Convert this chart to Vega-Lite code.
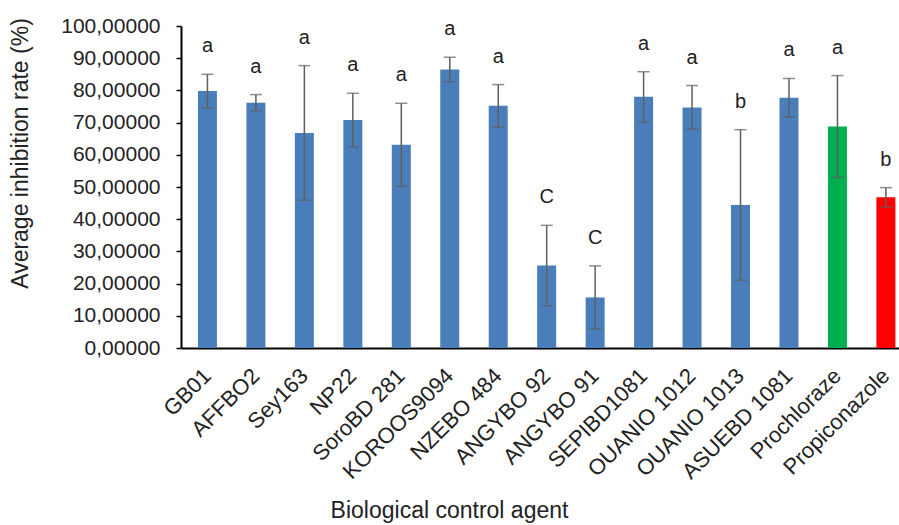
{
  "$schema": "https://vega.github.io/schema/vega-lite/v6.json",
  "autosize": {"type": "none"},
  "width": 718,
  "height": 322,
  "padding": {"left": 181, "top": 26, "right": 0, "bottom": 177},
  "background": "white",
  "config": {
    "view": {"stroke": null},
    "font": "Liberation Sans",
    "axis": {"labelFont": "Liberation Sans", "titleFont": "Liberation Sans", "labelColor": "#222222", "titleColor": "#222222", "titleFontWeight": "normal", "grid": false}
  },
  "data": {
    "values": [
      {"agent": "GB01", "mean": 79.8, "sd": 5.2, "group": "a", "kind": "bio"},
      {"agent": "AFFBO2", "mean": 76.2, "sd": 2.5, "group": "a", "kind": "bio"},
      {"agent": "Sey163", "mean": 66.8, "sd": 20.9, "group": "a", "kind": "bio"},
      {"agent": "NP22", "mean": 70.8, "sd": 8.3, "group": "a", "kind": "bio"},
      {"agent": "SoroBD 281", "mean": 63.1, "sd": 12.9, "group": "a", "kind": "bio"},
      {"agent": "KOROOS9094", "mean": 86.5, "sd": 3.8, "group": "a", "kind": "bio"},
      {"agent": "NZEBO 484", "mean": 75.2, "sd": 6.6, "group": "a", "kind": "bio"},
      {"agent": "ANGYBO 92", "mean": 25.6, "sd": 12.5, "group": "C", "kind": "bio"},
      {"agent": "ANGYBO 91", "mean": 15.7, "sd": 9.8, "group": "C", "kind": "bio"},
      {"agent": "SEPIBD1081", "mean": 78.0, "sd": 7.8, "group": "a", "kind": "bio"},
      {"agent": "OUANIO 1012", "mean": 74.7, "sd": 6.8, "group": "a", "kind": "bio"},
      {"agent": "OUANIO 1013", "mean": 44.4, "sd": 23.4, "group": "b", "kind": "bio"},
      {"agent": "ASUEBD 1081", "mean": 77.7, "sd": 6.0, "group": "a", "kind": "bio"},
      {"agent": "Prochloraze", "mean": 68.8, "sd": 15.8, "group": "a", "kind": "Prochloraze"},
      {"agent": "Propiconazole", "mean": 46.8, "sd": 3.0, "group": "b", "kind": "Propiconazole"}
    ]
  },
  "transform": [
    {"calculate": "datum.mean + datum.sd", "as": "upper"},
    {"calculate": "datum.mean - datum.sd", "as": "lower"}
  ],
  "encoding": {
    "x": {
      "field": "agent",
      "type": "nominal",
      "sort": null,
      "scale": {"paddingInner": 0.608, "paddingOuter": 0.212, "align": 0.825},
      "axis": {
        "title": "Biological control agent",
        "titleFontSize": 23,
        "titleX": 268,
        "titleY": 162,
        "titleAlign": "center",
        "titleBaseline": "middle",
        "labelAngle": -45,
        "labelAlign": "right",
        "labelBaseline": "middle",
        "labelFontSize": 22,
        "labelPadding": 24,
        "labelOverlap": false,
        "labelBound": false,
        "ticks": false,
        "domainColor": "#000000",
        "domainWidth": 2
      }
    },
    "y": {
      "field": "mean",
      "type": "quantitative",
      "title": "Average inhibition rate (%)",
      "scale": {"domain": [0, 100], "nice": false},
      "axis": {
        "values": [0, 10, 20, 30, 40, 50, 60, 70, 80, 90, 100],
        "labelExpr": "replace(format(datum.value, '.5f'), '.', ',')",
        "titleFontSize": 23,
        "titlePadding": 28,
        "titleY": 127,
        "titleAlign": "center",
        "labelFontSize": 21,
        "labelPadding": 16,
        "labelOverlap": false,
        "tickColor": "#000000",
        "tickSize": 5,
        "tickWidth": 1.5,
        "domainColor": "#000000",
        "domainWidth": 2
      }
    }
  },
  "layer": [
    {
      "mark": {"type": "bar"},
      "encoding": {
        "color": {
          "field": "kind",
          "type": "nominal",
          "scale": {"domain": ["bio", "Prochloraze", "Propiconazole"], "range": ["#4a7ebb", "#00b050", "#ff0000"]},
          "legend": null
        }
      }
    },
    {
      "mark": {"type": "rule", "color": "#5f5f5f", "strokeWidth": 1.5},
      "encoding": {
        "y": {"field": "lower", "type": "quantitative"},
        "y2": {"field": "upper"}
      }
    },
    {
      "mark": {"type": "tick", "color": "#5f5f5f", "thickness": 1.5, "size": 12},
      "encoding": {
        "y": {"field": "upper", "type": "quantitative"}
      }
    },
    {
      "mark": {"type": "tick", "color": "#5f5f5f", "thickness": 1.5, "size": 12},
      "encoding": {
        "y": {"field": "lower", "type": "quantitative"}
      }
    },
    {
      "mark": {"type": "text", "fontSize": 20, "baseline": "middle", "dy": -28, "color": "#222222", "font": "Liberation Sans"},
      "encoding": {
        "y": {"field": "upper", "type": "quantitative"},
        "text": {"field": "group"}
      }
    }
  ]
}
